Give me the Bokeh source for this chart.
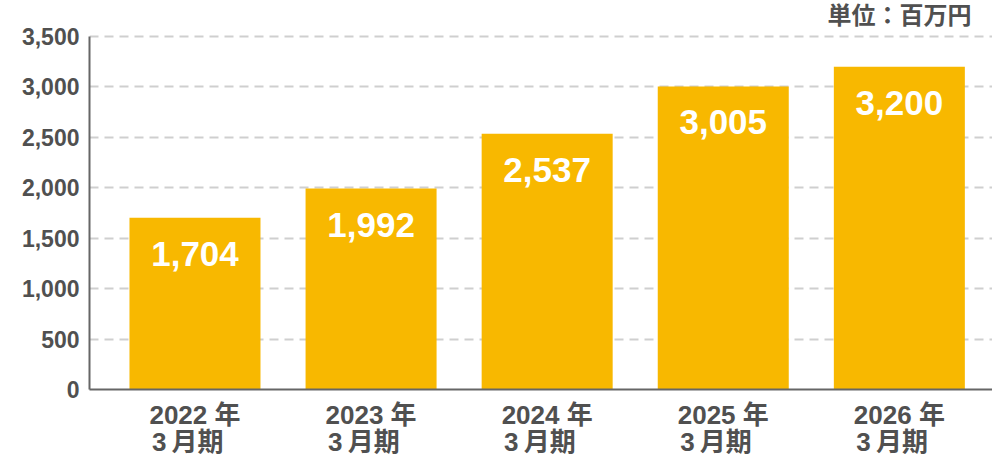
from bokeh.plotting import figure
from bokeh.models import ColumnDataSource, FixedTicker, Range1d, NumeralTickFormatter
from bokeh.core.properties import value
from bokeh.embed import file_html
from bokeh.resources import INLINE

years = ["2022 年", "2023 年", "2024 年", "2025 年", "2026 年"]
period = ["3\u2009月期", "3\u2009月期", "3\u2009月期", "3\u2009月期", "3\u2009月期"]
sales = [1704, 1992, 2537, 3005, 3200]
y_ticks = [0, 500, 1000, 1500, 2000, 2500, 3000, 3500]
unit_text = "単位：百万円"

BAR = "#F8B800"
TXT = "#505050"
FONT = "Liberation Sans, Noto Sans CJK JP"

xs = list(range(len(years)))
src = ColumnDataSource(dict(
    x=xs, top=sales, label=[f"{v:,}" for v in sales]))
unit_src = ColumnDataSource(dict(x=[4.41], y=[3708], text=[unit_text]))

y_max = y_ticks[-1]
p = figure(width=992, height=462, output_backend="svg", toolbar_location=None,
           title=None,
           x_range=Range1d(-0.599, 4.529), y_range=Range1d(0, y_max * 389 / 353),
           min_border_left=89, min_border_right=0, min_border_top=0,
           min_border_bottom=73)
p.outline_line_color = None
p.background_fill_color = "white"
p.border_fill_color = "white"

p.vbar(x="x", top="top", width=0.744, bottom=0, source=src,
       fill_color=BAR, line_color=None)
p.text(x="x", y="top", text="label", source=src, text_align="center",
       text_baseline="middle", y_offset=36, text_color="white",
       text_font=value(FONT), text_font_size="35px", text_font_style="bold")

p.text(x="x", y="y", text="text", source=unit_src, text_align="right",
       text_baseline="middle", text_color=TXT, text_font=value(FONT),
       text_font_size="24px", text_font_style="bold")

# y axis
ya = p.yaxis[0]
ya.ticker = FixedTicker(ticks=y_ticks)
ya.bounds = (0, y_max)
ya.formatter = NumeralTickFormatter(format="0,0")
ya.major_tick_line_color = None
ya.major_tick_out = 0
ya.major_tick_in = 0
ya.minor_tick_line_color = None
ya.axis_line_color = "#666666"
ya.axis_line_width = 2
ya.major_label_standoff = 10
ya.major_label_text_font = FONT
ya.major_label_text_font_size = "23px"
ya.major_label_text_font_style = "bold"
ya.major_label_text_color = TXT

# x axis
xa = p.xaxis[0]
xa.ticker = FixedTicker(ticks=xs)
xa.major_label_overrides = {i: f"{years[i]}\n{period[i]}\u00a0\u00a0" for i in xs}
xa.major_tick_line_color = None
xa.major_tick_out = 0
xa.major_tick_in = 0
xa.minor_tick_line_color = None
xa.axis_line_color = "#666666"
xa.axis_line_width = 2
xa.major_label_standoff = 10
xa.major_label_text_font = FONT
xa.major_label_text_font_size = "26px"
xa.major_label_text_font_style = "bold"
xa.major_label_text_color = TXT
xa.major_label_text_align = "center"
xa.major_label_text_line_height = 0.9

p.xgrid.grid_line_color = None
p.ygrid.ticker = FixedTicker(ticks=y_ticks)
p.ygrid.grid_line_color = "#CFCFCF"
p.ygrid.grid_line_width = 2
p.ygrid.grid_line_dash = "9 6"

open("out.html", "w").write(file_html(p, INLINE))
